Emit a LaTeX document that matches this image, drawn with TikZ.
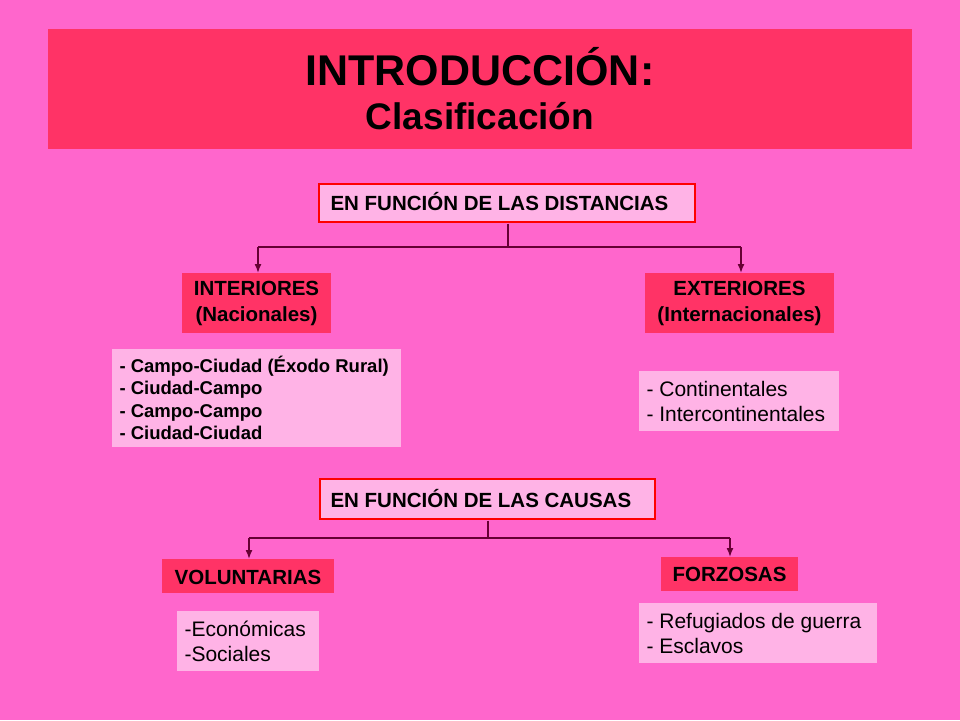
\documentclass[tikz,border=0pt]{standalone}
\usepackage{fontspec}
\setmainfont{Liberation Sans}
\usetikzlibrary{arrows.meta}
\definecolor{bg}{HTML}{FF66CC}
\definecolor{hot}{HTML}{FF3366}
\definecolor{lite}{HTML}{FFB3E6}
\definecolor{ln}{HTML}{660033}
\begin{document}
\begin{tikzpicture}[x=1pt,y=-1pt,
  hdr/.style={draw=red,line width=2.5pt,fill=lite},
  cat/.style={fill=hot},
  lst/.style={fill=lite},
  conn/.style={draw=ln,line width=1.5pt},
  arr/.style={conn,-{Latex[length=9pt,width=7pt]},color=ln},
  t/.style={font=\fontsize{20.5}{24}\selectfont\bfseries,align=center},
  l/.style={font=\fontsize{21}{25}\selectfont,align=left,anchor=west}]
\useasboundingbox (0,0) rectangle (960,720);
\fill[bg] (0,0) rectangle (960,720);
\fill[hot] (48,29) rectangle (912,149);
\node[font=\fontsize{43}{46}\selectfont\bfseries] (t1) at (480,67) {INTRODUCCIÓN:};
\node[font=\fontsize{37}{40}\selectfont\bfseries] (t2) at (480,116) {Clasificación};
% distances
\draw[hdr] (319,184) rectangle (695,222);
\node[t,anchor=west] (d) at (327,202) {EN FUNCIÓN DE LAS DISTANCIAS};
\coordinate (d1) at (508,223.5);
\coordinate (d2) at (508,247);
\coordinate (dl) at (258,247);
\coordinate (dr) at (741,247);
\draw[conn] (d1) -- (d2) (dl) -- (dr);
\fill[cat] (182,273) rectangle (331,333);
\fill[cat] (645,273) rectangle (834,333);
\node[t,font=\fontsize{20.5}{26}\selectfont\bfseries] (int) at (256.5,303) {INTERIORES\\(Nacionales)};
\node[t,font=\fontsize{20.5}{26}\selectfont\bfseries] (ext) at (739.5,303) {EXTERIORES\\(Internacionales)};
\draw[arr] (dl) -- (258,273);
\draw[arr] (dr) -- (741,273);
\fill[lst] (112,349) rectangle (401,447);
\node[l,font=\fontsize{18.5}{22.5}\selectfont\bfseries] (li) at (116,398) {- Campo-Ciudad (Éxodo Rural)\\- Ciudad-Campo\\- Campo-Campo\\- Ciudad-Ciudad};
\fill[lst] (639,371) rectangle (839,431);
\node[l] (le) at (643,401) {- Continentales\\- Intercontinentales};
% causes
\draw[hdr] (320,479) rectangle (655,519);
\node[t,anchor=west] (c) at (327,499) {EN FUNCIÓN DE LAS CAUSAS};
\coordinate (c1) at (488,520.5);
\coordinate (c2) at (488,538);
\coordinate (cl) at (249,538);
\coordinate (cr) at (730,538);
\draw[conn] (c1) -- (c2) (cl) -- (cr);
\fill[cat] (162,559) rectangle (334,593);
\fill[cat] (661,557) rectangle (798,591);
\node[t] (vol) at (248,577) {VOLUNTARIAS};
\node[t] (for) at (729.5,574) {FORZOSAS};
\draw[arr] (cl) -- (249,559);
\draw[arr] (cr) -- (730,557);
\fill[lst] (177,611) rectangle (319,671);
\node[l] (lv) at (181,641) {-Económicas\\-Sociales};
\fill[lst] (639,603) rectangle (877,663);
\node[l] (lf) at (643,633) {- Refugiados de guerra\\- Esclavos};
\end{tikzpicture}
\end{document}
